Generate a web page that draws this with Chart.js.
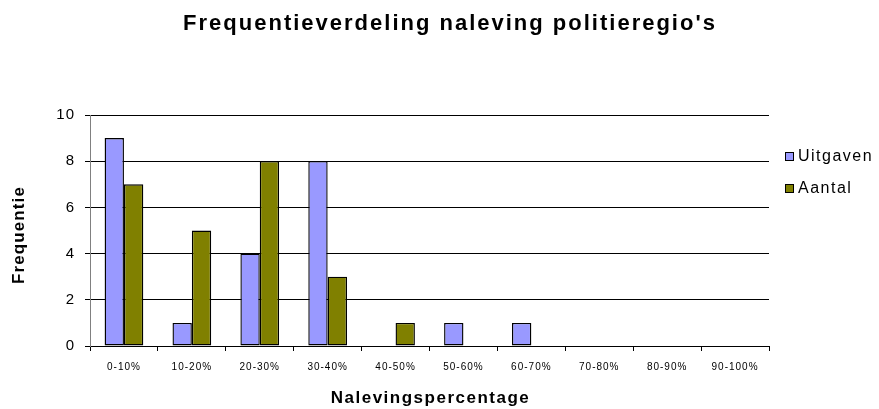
<!DOCTYPE html>
<html>
<head>
<meta charset="utf-8">
<script src="https://cdn.jsdelivr.net/npm/chart.js@4.4.1/dist/chart.umd.min.js"></script>
<style>
  html, body { margin: 0; padding: 0; background: #fff; }
  #chartBox { width: 879px; height: 409px; }
</style>
</head>
<body>
<div id="chartBox"><canvas id="freqChart"></canvas></div>
<script>
const categories = ["0-10%", "10-20%", "20-30%", "30-40%", "40-50%", "50-60%", "60-70%", "70-80%", "80-90%", "90-100%"];
const uitgaven = [9, 1, 4, 8, 0, 1, 1, 0, 0, 0];
const aantal = [7, 5, 8, 3, 1, 0, 0, 0, 0, 0];
const yTicks = [0, 2, 4, 6, 8, 10];

const chartTitle = "Frequentieverdeling naleving politieregio's";
const xTitle = "Nalevingspercentage";
const yTitle = "Frequentie";

const FONT = "'Liberation Sans', Arial, sans-serif";

// the original has spaced-out text, which Chart.js can't do itself,
// so titles and legend are drawn here with canvas letterSpacing
const extras = {
  id: "extras",
  beforeDraw(chart) {
    chart.ctx.letterSpacing = "1px";
  },
  afterDraw(chart) {
    const ctx = chart.ctx;
    const area = chart.chartArea;
    ctx.save();
    ctx.fillStyle = "#000";
    ctx.textAlign = "center";
    ctx.textBaseline = "alphabetic";

    ctx.font = "bold 22px " + FONT;
    ctx.letterSpacing = "2px";
    ctx.fillText(chartTitle, 450, 30);

    ctx.font = "bold 17px " + FONT;
    ctx.letterSpacing = "1.5px";
    ctx.fillText(xTitle, (area.left + area.right) / 2 + 1, 403);

    ctx.save();
    ctx.letterSpacing = "1.1px";
    ctx.translate(24, 235);
    ctx.rotate(-Math.PI / 2);
    ctx.fillText(yTitle, 0, 0);
    ctx.restore();

    ctx.letterSpacing = "1.5px";
    ctx.font = "16px " + FONT;
    ctx.textAlign = "left";
    ctx.textBaseline = "middle";
    const rowY = [157, 189];
    chart.data.datasets.forEach((ds, i) => {
      const y = rowY[i];
      ctx.fillStyle = ds.backgroundColor;
      ctx.fillRect(785.5, y - 4.5, 8, 8);
      ctx.strokeStyle = "#000";
      ctx.lineWidth = 1;
      ctx.strokeRect(785.5, y - 4.5, 8, 8);
      ctx.fillStyle = "#000";
      ctx.fillText(ds.label, 798, y);
    });
    ctx.restore();
  }
};

new Chart(document.getElementById("freqChart"), {
  type: "bar",
  data: {
    labels: categories,
    datasets: [
      {
        label: "Uitgaven",
        data: uitgaven,
        backgroundColor: "#9999FF",
        borderColor: "#000",
        borderWidth: 1.4,
        borderSkipped: false,
        barPercentage: 1,
        categoryPercentage: 0.57
      },
      {
        label: "Aantal",
        data: aantal,
        backgroundColor: "#808000",
        borderColor: "#000",
        borderWidth: 1.4,
        borderSkipped: false,
        barPercentage: 1,
        categoryPercentage: 0.57
      }
    ]
  },
  options: {
    responsive: true,
    maintainAspectRatio: false,
    animation: false,
    layout: { padding: { top: 115, right: 110, left: 0, bottom: 0 } },
    plugins: {
      legend: { display: false },
      title: { display: false },
      tooltip: { enabled: false }
    },
    scales: {
      x: {
        afterFit(scale) { scale.height = 63; },
        grid: { drawOnChartArea: false, offset: true, color: "#000", tickLength: 5 },
        border: { color: "#000", width: 1 },
        ticks: { color: "#000", font: { family: FONT, size: 10 }, padding: 10, maxRotation: 0, autoSkip: false }
      },
      y: {
        min: 0,
        max: 10,
        afterFit(scale) { scale.width = 90; },
        afterBuildTicks(scale) { scale.ticks = yTicks.map(v => ({ value: v })); },
        grid: { color: "#000", lineWidth: 1, tickLength: 5 },
        border: { color: "#808080", width: 1 },
        ticks: { color: "#000", font: { family: FONT, size: 15 }, padding: 10 }
      }
    }
  },
  plugins: [extras]
});
</script>
</body>
</html>
